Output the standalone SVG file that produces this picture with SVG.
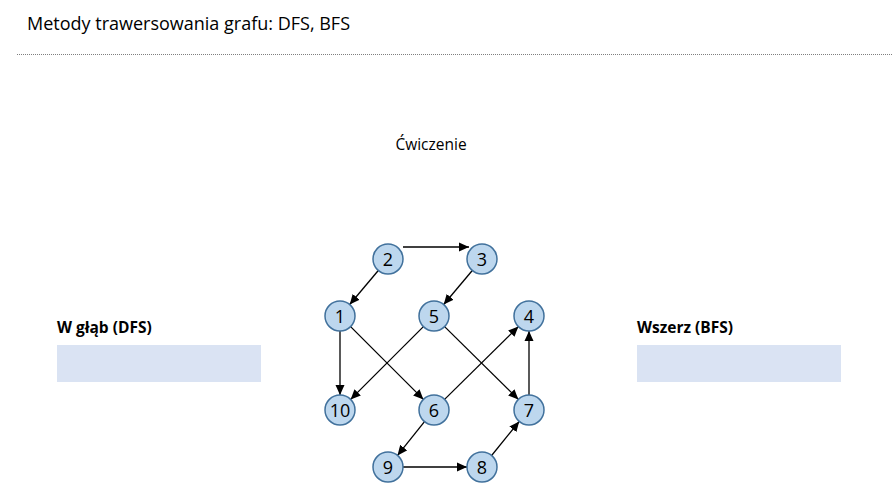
<svg xmlns="http://www.w3.org/2000/svg" width="892" height="495" viewBox="0 0 892 495">
<style>
.t{font-family:"Open Sans","Liberation Sans",sans-serif;fill:#000}
.node circle{fill:#BDD7EE;stroke:#41719C;stroke-width:1.5}
.node text{font-family:"Open Sans","Liberation Sans",sans-serif;font-size:18px;fill:#000;text-anchor:middle;dominant-baseline:central}
.edge{stroke:#000;stroke-width:1.3;fill:none;marker-end:url(#ah)}
.box{fill:#DAE3F3}
</style>
<defs>
<marker id="ah" viewBox="0 0 10 10" refX="10" refY="5" markerWidth="10" markerHeight="10" markerUnits="userSpaceOnUse" orient="auto">
<path d="M0,0.5 L10,5 L0,9.5 Z" fill="#000"/>
</marker>
</defs>
<rect width="892" height="495" fill="#fff"/>
<text class="t" x="27" y="30" font-size="18">Metody trawersowania grafu: DFS, BFS</text>
<line x1="17" y1="54.5" x2="892" y2="54.5" stroke="#7f7f7f" stroke-width="1" stroke-dasharray="1,1"/>
<text class="t" x="431" y="150" font-size="15.5" text-anchor="middle" fill="#333">Ćwiczenie</text>
<g id="dfs">
<text class="t" x="57" y="333" font-size="15.5" font-weight="bold">W głąb (DFS)</text>
<rect class="box" x="57" y="345" width="204" height="37"/>
</g>
<g id="bfs">
<text class="t" x="637" y="333" font-size="15.5" font-weight="bold">Wszerz (BFS)</text>
<rect class="box" x="637" y="345" width="204" height="37"/>
</g>
<g id="edges">
<line class="edge" x1="403" y1="247" x2="469" y2="247"/>
<line class="edge" x1="378.3" y1="270.5" x2="349.7" y2="304.5"/>
<line class="edge" x1="472.3" y1="270.5" x2="443.7" y2="304.5"/>
<line class="edge" x1="340" y1="331" x2="340" y2="395"/>
<line class="edge" x1="350.6" y1="326.6" x2="423.4" y2="399.4"/>
<line class="edge" x1="423.4" y1="326.6" x2="350.6" y2="399.4"/>
<line class="edge" x1="444.6" y1="326.6" x2="518.4" y2="399.4"/>
<line class="edge" x1="444.6" y1="399.4" x2="518.4" y2="326.6"/>
<line class="edge" x1="529" y1="395" x2="529" y2="331"/>
<line class="edge" x1="424.5" y1="421.6" x2="397.5" y2="455.4"/>
<line class="edge" x1="403" y1="467" x2="467" y2="467"/>
<line class="edge" x1="491.6" y1="455.5" x2="519.2" y2="421.5"/>
</g>
<g id="n2" class="node"><circle cx="388" cy="259" r="15"/><text x="388" y="259">2</text></g>
<g id="n3" class="node"><circle cx="482" cy="259" r="15"/><text x="482" y="259">3</text></g>
<g id="n1" class="node"><circle cx="340" cy="316" r="15"/><text x="340" y="316">1</text></g>
<g id="n5" class="node"><circle cx="434" cy="316" r="15"/><text x="434" y="316">5</text></g>
<g id="n4" class="node"><circle cx="529" cy="316" r="15"/><text x="529" y="316">4</text></g>
<g id="n10" class="node"><circle cx="340" cy="410" r="15"/><text x="340" y="410">10</text></g>
<g id="n6" class="node"><circle cx="434" cy="410" r="15"/><text x="434" y="410">6</text></g>
<g id="n7" class="node"><circle cx="529" cy="410" r="15"/><text x="529" y="410">7</text></g>
<g id="n9" class="node"><circle cx="388" cy="467" r="15"/><text x="388" y="467">9</text></g>
<g id="n8" class="node"><circle cx="482" cy="467" r="15"/><text x="482" y="467">8</text></g>
</svg>
